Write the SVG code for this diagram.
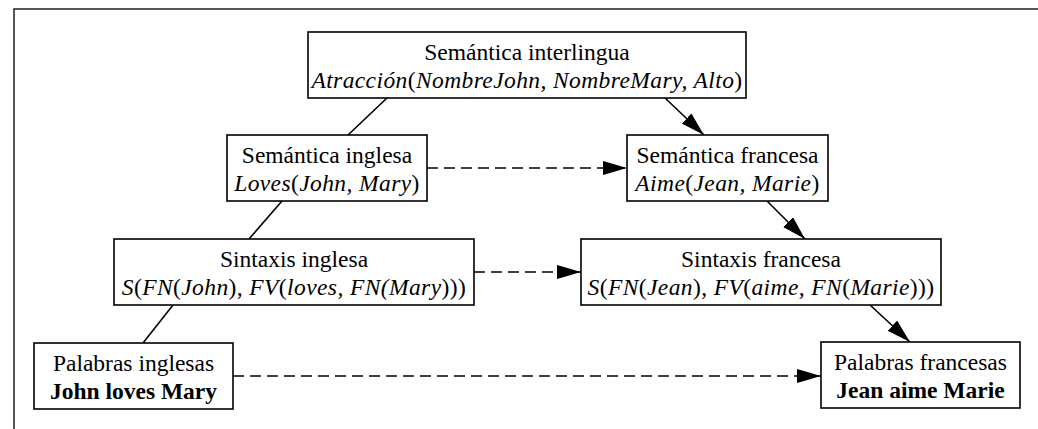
<svg xmlns="http://www.w3.org/2000/svg" width="1038" height="429" viewBox="0 0 1038 429">
<style>
  .box { fill: #fff; stroke: #000; stroke-width: 1.6; }
  text { font-family: "Liberation Serif", "Times New Roman", serif; font-size: 23.5px; fill: #000; text-anchor: middle; }
  .it { letter-spacing: 0.4px; }
  .i { font-style: italic; }
  .b { font-weight: bold; }
  .edge { stroke: #000; stroke-width: 1.6; fill: none; }
  .dash { stroke-dasharray: 11 6; }
  .frame { stroke: #222; stroke-width: 1.5; fill: none; }
</style>
<defs>
  <marker id="arrow" markerUnits="userSpaceOnUse" markerWidth="26" markerHeight="15" refX="24" refY="7" orient="auto">
    <path d="M0,0 L24,7 L0,14 z" fill="#000" stroke="none"/>
  </marker>
</defs>
<rect width="1038" height="429" fill="#fff"/>
<path class="frame" d="M14,429 L14,9 L1038,9"/>

<g id="connectors">
  <line class="edge" x1="387" y1="98" x2="348" y2="135"/>
  <line class="edge" x1="282" y1="201" x2="249" y2="239"/>
  <line class="edge" x1="173" y1="305" x2="143" y2="343"/>
  <line class="edge" x1="665" y1="98" x2="704" y2="135" marker-end="url(#arrow)"/>
  <line class="edge" x1="767" y1="201" x2="805" y2="239" marker-end="url(#arrow)"/>
  <line class="edge" x1="870" y1="305" x2="910" y2="342" marker-end="url(#arrow)"/>
  <line class="edge dash" x1="427" y1="168" x2="627" y2="168" marker-end="url(#arrow)"/>
  <line class="edge dash" x1="474" y1="272" x2="581" y2="272" marker-end="url(#arrow)"/>
  <line class="edge dash" x1="233" y1="376" x2="821" y2="376" marker-end="url(#arrow)"/>
</g>

<g id="sem-interlingua">
  <rect class="box" x="308" y="32" width="438" height="66"/>
  <text x="527" y="60">Semántica interlingua</text>
  <text x="527" y="88" class="it"><tspan class="i">Atracción</tspan>(<tspan class="i">NombreJohn, NombreMary, Alto</tspan>)</text>
</g>

<g id="sem-inglesa">
  <rect class="box" x="227" y="135" width="200" height="66"/>
  <text x="327" y="163">Semántica inglesa</text>
  <text x="327" y="191" class="it"><tspan class="i">Loves</tspan>(<tspan class="i">John, Mary</tspan>)</text>
</g>

<g id="sem-francesa">
  <rect class="box" x="627" y="135" width="201" height="66"/>
  <text x="727.5" y="163">Semántica francesa</text>
  <text x="727.5" y="191" class="it"><tspan class="i">Aime</tspan>(<tspan class="i">Jean, Marie</tspan>)</text>
</g>

<g id="sint-inglesa">
  <rect class="box" x="114" y="239" width="360" height="66"/>
  <text x="294" y="267">Sintaxis inglesa</text>
  <text x="294" y="295" class="it"><tspan class="i">S</tspan>(<tspan class="i">FN</tspan>(<tspan class="i">John</tspan>), <tspan class="i">FV</tspan>(<tspan class="i">loves, FN(Mary</tspan>)))</text>
</g>

<g id="sint-francesa">
  <rect class="box" x="581" y="239" width="360" height="66"/>
  <text x="761" y="267">Sintaxis francesa</text>
  <text x="761" y="295" class="it"><tspan class="i">S</tspan>(<tspan class="i">FN</tspan>(<tspan class="i">Jean</tspan>), <tspan class="i">FV</tspan>(<tspan class="i">aime, FN</tspan>(<tspan class="i">Marie</tspan>)))</text>
</g>

<g id="pal-inglesas">
  <rect class="box" x="34" y="343" width="199" height="66"/>
  <text x="133.5" y="371">Palabras inglesas</text>
  <text x="133.5" y="399" class="b">John loves Mary</text>
</g>

<g id="pal-francesas">
  <rect class="box" x="821" y="342" width="199" height="66"/>
  <text x="920.5" y="370">Palabras francesas</text>
  <text x="920.5" y="398" class="b">Jean aime Marie</text>
</g>
</svg>
